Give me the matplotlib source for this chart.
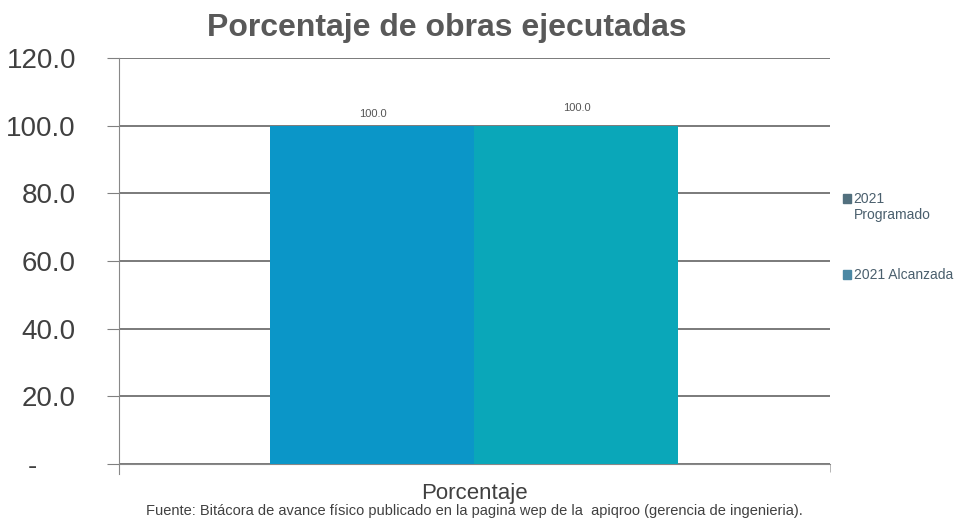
import matplotlib.pyplot as plt
import numpy as np
from matplotlib.patches import Patch, Rectangle
from matplotlib.legend_handler import HandlerPatch

# datos
categorias = ['Porcentaje']
series = ['2021\nProgramado', '2021 Alcanzada']
programado = [100.0]
alcanzada = [100.0]
colores_barra = ['#0b96c8', '#0aa7b9']
colores_leyenda = ['#52707e', '#4b88a4']
yticks = [0, 20, 40, 60, 80, 100, 120]
ytick_labels = ['-     ', '20.0', '40.0', '60.0', '80.0', '100.0', '120.0']

plt.rcParams['font.family'] = ['Liberation Sans', 'DejaVu Sans']

fig = plt.figure(figsize=(9.65, 5.22), dpi=100)
ax = fig.add_axes([0.1233, 0.111, 0.7367, 0.778])

x = np.arange(len(categorias))
w = 0.287
b1 = ax.bar(x - w / 2, programado, w, color=colores_barra[0], zorder=3)
b2 = ax.bar(x + w / 2, alcanzada, w, color=colores_barra[1], zorder=3)

for bars, dy in [(b1, 5), (b2, 9)]:
    for r in bars:
        ax.annotate(f'{r.get_height():.1f}', (r.get_x() + r.get_width() / 2, r.get_height()),
                    xytext=(0, dy), textcoords='offset points', ha='center', va='bottom',
                    fontsize=8, color='#555555')

ax.set_xlim(-0.5, 0.5)
ax.set_ylim(0, 120)
ax.set_yticks(yticks)
ax.set_yticklabels(ytick_labels)
ax.tick_params(axis='y', labelsize=20, labelcolor='#404040', length=9, color='#808080', pad=22)
ax.set_xticks([-0.5, 0.5], minor=True)
ax.set_xticks([])
ax.tick_params(axis='x', which='minor', length=6, color='#aaaaaa')
ax.grid(axis='y', color='#7a7a7a', lw=1.4, zorder=0)

for s in ['top', 'right']:
    ax.spines[s].set_visible(False)
ax.spines['left'].set_color('#888888')
ax.spines['bottom'].set_color('#888888')
ax.spines['left'].set_bounds(-3, 120)

fig.text(0.463, 0.946, 'Porcentaje de obras ejecutadas', ha='center', va='center',
         fontsize=23, fontweight='bold', color='#595959')

fig.text(0.492, 0.035, 'Porcentaje', ha='center', va='bottom', fontsize=16, color='#404040')
fig.text(0.492, 0.008, 'Fuente: Bitácora de avance físico publicado en la pagina wep de la  apiqroo (gerencia de ingenieria).',
         ha='center', va='bottom', fontsize=10.5, color='#404040')


# el cuadrito de la leyenda va alineado con la primera linea del texto
def cuadro_arriba(legend, orig_handle, xdescent, ydescent, width, height, fontsize):
    return Rectangle((-xdescent, -ydescent + 7), width, height)


def cuadro(legend, orig_handle, xdescent, ydescent, width, height, fontsize):
    return Rectangle((-xdescent, -ydescent), width, height)


handles = [Patch(color=c) for c in colores_leyenda]
leg = fig.legend(handles, series, loc='upper left', bbox_to_anchor=(0.866, 0.645), frameon=False,
                 fontsize=10, handlelength=0.6, handleheight=0.6, handletextpad=0.2,
                 labelspacing=3.3, borderpad=0,
                 handler_map={handles[0]: HandlerPatch(patch_func=cuadro_arriba),
                              handles[1]: HandlerPatch(patch_func=cuadro)})
for t in leg.get_texts():
    t.set_color('#4a5f6d')

plt.savefig('out.png', dpi=100)
